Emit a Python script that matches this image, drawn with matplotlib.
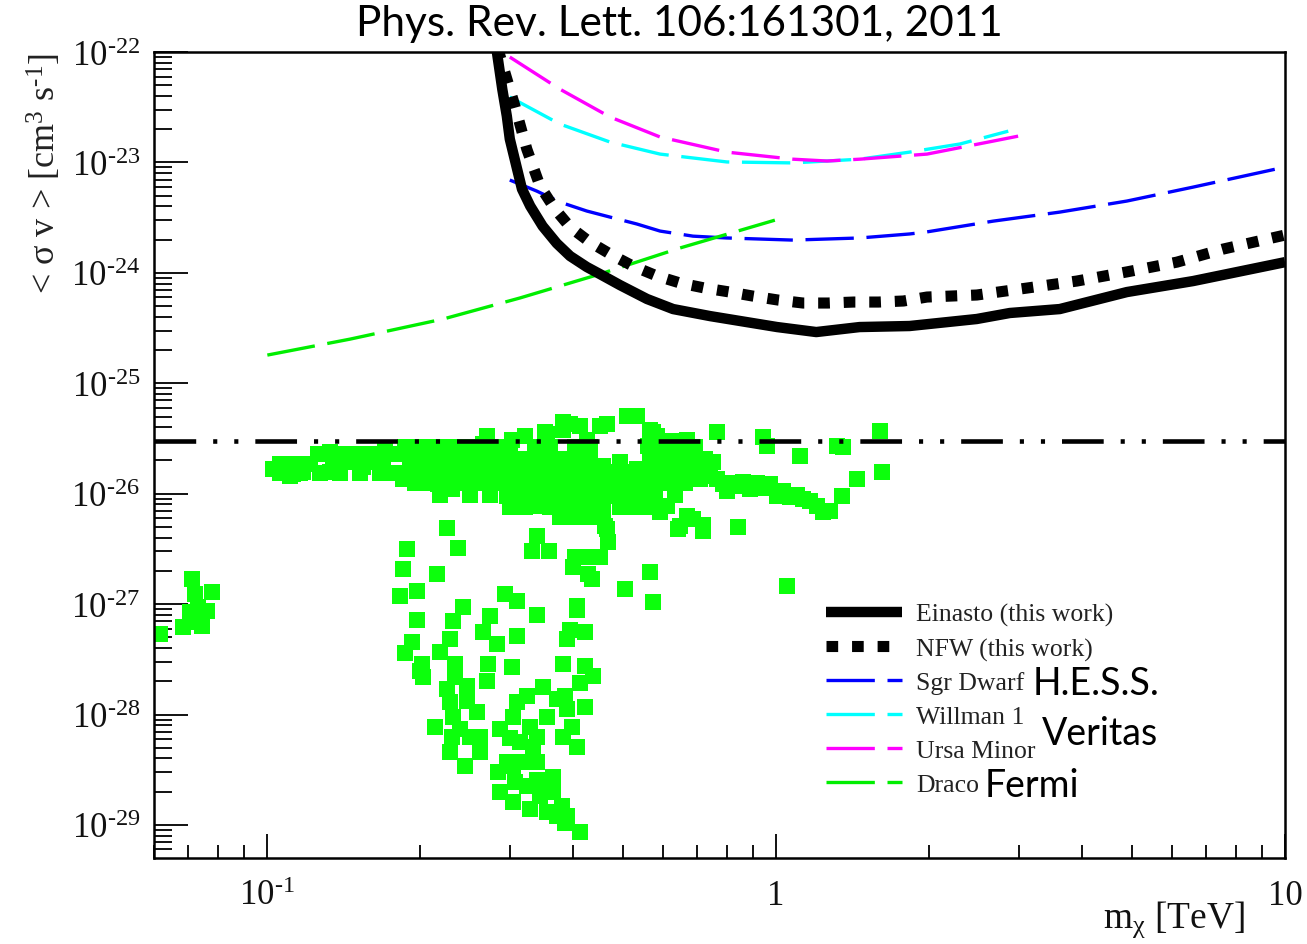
import matplotlib
matplotlib.use("Agg")
import matplotlib.pyplot as plt
import numpy as np
from matplotlib.ticker import FixedLocator, LogLocator, NullFormatter

plt.rcParams["font.family"] = ["Liberation Serif", "DejaVu Serif"]
plt.rcParams["mathtext.fontset"] = "custom"
plt.rcParams["mathtext.rm"] = "Liberation Serif"
plt.rcParams["mathtext.it"] = "Liberation Serif:italic"
plt.rcParams["mathtext.bf"] = "Liberation Serif:bold"

# limits from this work (mass in TeV, <sigma v> in cm^3/s)
einasto_m = [0.281, 0.283, 0.290, 0.296, 0.300, 0.317, 0.329, 0.348, 0.371,
             0.394, 0.425, 0.451, 0.494, 0.558, 0.628, 0.742, 1.005, 1.20,
             1.46, 1.83, 2.48, 2.88, 3.61, 4.89, 6.60, 10.0]
einasto_sv = [1.1e-22, 1.0e-22, 4.6e-23, 2.63e-23, 1.63e-23, 5.74e-24,
              4.03e-24, 2.65e-24, 1.85e-24, 1.42e-24, 1.13e-24, 9.75e-25,
              7.74e-25, 5.8e-25, 4.7e-25, 4.06e-25, 3.23e-25, 2.91e-25,
              3.23e-25, 3.3e-25, 3.82e-25, 4.33e-25, 4.7e-25, 6.7e-25,
              8.43e-25, 1.25e-24]

nfw_m = [0.284, 0.287, 0.307, 0.324, 0.344, 0.368, 0.394, 0.431, 0.476,
         0.524, 0.584, 0.648, 0.725, 0.812, 0.901, 1.01, 1.13, 1.265, 1.42,
         1.59, 1.78, 1.98, 2.48, 3.11, 3.90, 4.89, 6.13, 7.55, 10.0]
nfw_sv = [1.1e-22, 9.2e-23, 3.24e-23, 1.32e-23, 6.1e-24, 3.78e-24, 2.6e-24,
          1.9e-24, 1.45e-24, 1.15e-24, 9.36e-25, 8.09e-25, 7.28e-25,
          6.7e-25, 6.16e-25, 5.67e-25, 5.33e-25, 5.33e-25, 5.44e-25,
          5.44e-25, 5.56e-25, 6.04e-25, 6.3e-25, 7.28e-25, 8.43e-25,
          1.02e-24, 1.25e-24, 1.64e-24, 2.2e-24]

# dwarf galaxy limits
sgr_m = [0.300, 0.339, 0.376, 0.425, 0.472, 0.533, 0.592, 0.687, 0.80, 1.08,
         1.46, 1.83, 1.98, 2.67, 3.61, 4.89, 6.60, 10.0]
sgr_sv = [6.93e-24, 5.5e-24, 4.38e-24, 3.63e-24, 3.2e-24, 2.77e-24,
          2.39e-24, 2.15e-24, 2.07e-24, 1.98e-24, 2.07e-24, 2.25e-24,
          2.35e-24, 2.94e-24, 3.55e-24, 4.47e-24, 5.98e-24, 9.08e-24]

willman_m = [0.300, 0.376, 0.472, 0.592, 0.801, 1.08, 1.46, 1.83, 2.30, 2.86]
willman_sv = [3.91e-23, 2.23e-23, 1.53e-23, 1.19e-23, 1.01e-23, 9.9e-24,
              1.07e-23, 1.24e-23, 1.47e-23, 1.92e-23]

ursa_m = [0.300, 0.376, 0.472, 0.592, 0.801, 1.08, 1.26, 1.46, 1.98, 2.67,
          2.99]
ursa_sv = [9.0e-23, 4.62e-23, 2.58e-23, 1.70e-23, 1.24e-23, 1.07e-23,
           1.03e-23, 1.07e-23, 1.19e-23, 1.56e-23, 1.73e-23]

draco_m = [0.1002, 0.1456, 0.222, 0.314, 0.451, 0.648, 0.995]
draco_sv = [1.8e-25, 2.51e-25, 3.82e-25, 5.92e-25, 9.75e-25, 1.68e-24,
            3.0e-24]

relic_sv = 3e-26

# model points, read as log10(m / TeV) and log10(<sigma v> / cm^3 s^-1)
model_log_m = [
    # low-mass clump
    -1.210, -1.165, -1.128, -1.147, -1.108, -1.141, -1.136, -1.118, -1.151,
    -1.128, -1.145,
    # upper band
    -0.988, -0.961, -0.955, -0.949, -0.929, -0.900, -0.876, -0.876, -0.870,
    -0.841, -0.811, -0.794, -0.768, -0.772, -0.745, -0.733, -0.719, -0.705,
    -0.686, -0.676, -0.664, -0.660, -0.640, -0.637, -0.627, -0.607, -0.601,
    -0.576, -0.568, -0.576, -0.548, -0.536, -0.528, -0.519, -0.493, -0.489,
    -0.479, -0.464, -0.454, -0.458, -0.430, -0.418, -0.405, -0.411, -0.418,
    -0.391, -0.389,
    -0.686, -0.660, -0.635, -0.615, -0.595, -0.568, -0.542, -0.528, -0.503,
    -0.483, -0.477, -0.458, -0.450, -0.424, -0.424, -0.385, -0.371, -0.360,
    -0.346, -0.336, -0.332, -0.306, -0.293, -0.273, -0.242, -0.202, -0.175,
    -0.163, -0.189, -0.163,
    -0.450, -0.418, -0.346, -0.332, -0.293, -0.273, -0.248, -0.234, -0.202,
    -0.175, -0.385, -0.242, -0.179, -0.116, -0.026, -0.018, 0.204, 0.120,
    0.132, 0.047, -0.124, -0.169, -0.155, -0.208, -0.189, 0.208, 0.159,
    0.130,
    -0.391, -0.365, -0.340, -0.306, -0.371, -0.340, -0.306, -0.273, -0.248,
    -0.228, -0.385, -0.352, -0.320, -0.287, -0.253, -0.234, -0.340, -0.371,
    -0.251, -0.208,
    # tail towards 1 TeV
    -0.130, -0.116, -0.090, -0.065, -0.037, -0.012, 0.002, 0.028, 0.053,
    0.081, 0.092, -0.096, -0.051,
    -0.149, -0.104, -0.077, -0.026, 0.014, 0.041, 0.067, 0.106,
    -0.253, -0.214, -0.228, -0.175, -0.193, -0.143, -0.143, -0.075, -0.248,
    -0.297, -0.361, -0.242, 0.022, -0.391,
    -0.332, -0.330, -0.346, -0.371,
    # just below the band
    -0.646, -0.625, -0.725, -0.733, -0.666, -0.470, -0.479, -0.446, -0.395,
    -0.399, -0.369,
    # funnel
    -0.739, -0.705, -0.705, -0.615, -0.635, -0.532, -0.509, -0.470, -0.391,
    -0.562, -0.576, -0.548, -0.509, -0.405, -0.411, -0.375, -0.715, -0.729,
    -0.660, -0.640, -0.695, -0.694, -0.631, -0.566, -0.519, -0.418, -0.375,
    -0.360, -0.385, -0.631, -0.646, -0.607, -0.568, -0.458, -0.640, -0.607,
    -0.587, -0.635, -0.670, -0.621, -0.601, -0.637, -0.640, -0.611, -0.582,
    -0.582, -0.542, -0.523, -0.509, -0.489, -0.517, -0.483, -0.503, -0.470,
    -0.450, -0.430, -0.415, -0.411, -0.401, -0.375, -0.391, -0.477, -0.546,
    -0.517, -0.497, -0.470, -0.438, -0.542, -0.517, -0.489, -0.464, -0.483,
    -0.450, -0.438, -0.420, -0.411, -0.415, -0.385, -0.430, -0.470, -0.513,
    -0.528, -0.699, -0.418,
]
model_log_sv = [
    # low-mass clump
    -27.27, -27.21, -27.20, -26.77, -26.89, -26.91, -27.03, -27.06, -27.07,
    -27.14, -27.16,
    # upper band
    -25.78, -25.73, -25.84, -25.82, -25.80, -25.64, -25.62, -25.80, -25.76,
    -25.71, -25.76, -25.71, -25.61, -25.78, -25.64, -25.87, -25.60, -25.75,
    -25.60, -25.80, -25.91, -25.62, -25.75, -25.96, -25.60, -25.75, -25.87,
    -25.55, -25.48, -25.75, -25.62, -25.80, -25.99, -25.51, -25.48, -25.69,
    -26.05, -26.11, -25.44, -25.87, -25.75, -25.42, -25.37, -25.99, -26.14,
    -26.17, -25.87,
    -25.69, -25.78, -25.90, -25.84, -25.71, -25.80, -25.75, -26.02, -25.84,
    -25.99, -26.11, -25.90, -25.71, -25.78, -26.11, -25.90, -26.05, -25.80,
    -26.14, -26.29, -25.93, -26.05, -25.80, -25.93, -25.87, -25.90, -25.66,
    -25.87, -26.29, -26.23,
    -25.46, -25.35, -25.39, -25.37, -25.30, -25.30, -25.42, -25.48, -25.52,
    -25.51, -25.39, -25.44, -25.53, -25.44, -25.49, -25.57, -25.43, -25.57,
    -25.58, -25.66, -25.71, -25.62, -25.84, -25.87, -25.75, -25.80, -25.87,
    -26.02,
    -25.75, -25.69, -25.75, -25.71, -25.87, -25.90, -25.84, -25.78, -25.71,
    -25.62, -26.02, -26.05, -26.02, -26.02, -25.96, -25.84, -26.17, -25.51,
    -25.57, -25.57,
    # tail towards 1 TeV
    -25.84, -25.87, -25.90, -25.89, -25.90, -25.91, -26.02, -26.03, -26.05,
    -26.11, -26.17, -25.98, -25.96,
    -25.87, -25.91, -25.93, -25.95, -25.98, -26.01, -26.07, -26.16,
    -26.12, -26.11, -26.17, -26.20, -26.32, -26.28, -26.34, -26.30, -26.71,
    -26.86, -26.77, -26.98, -26.84, -27.02,
    -26.32, -26.44, -26.57, -26.57,
    # just below the band
    -26.31, -26.49, -26.50, -26.68, -26.73, -26.38, -26.52, -26.52, -26.57,
    -26.66, -26.73,
    # funnel
    -26.93, -26.88, -27.14, -27.03, -27.15, -26.91, -26.97, -27.10, -27.05,
    -27.11, -27.25, -27.36, -27.29, -27.23, -27.32, -27.25, -27.34, -27.44,
    -27.43, -27.32, -27.54, -27.66, -27.54, -27.54, -27.57, -27.54, -27.56,
    -27.65, -27.71, -27.66, -27.77, -27.74, -27.70, -27.75, -27.89, -27.88,
    -27.98, -28.02, -28.11, -28.13, -28.20, -28.20, -28.34, -28.47, -28.34,
    -28.20, -28.13, -28.21, -27.89, -27.83, -28.02, -28.11, -28.25, -28.20,
    -28.02, -27.86, -27.83, -27.95, -28.11, -27.93, -28.29, -28.29, -28.52,
    -28.47, -28.43, -28.43, -28.57, -28.70, -28.79, -28.65, -28.74, -28.86,
    -28.88, -28.70, -28.83, -28.92, -28.98, -29.06, -28.92, -28.59, -28.61,
    -28.43, -27.61, -28.20,
]

# dense part of the band, one row of log10(m) values per log10(<sigma v>)
band_rows = [
    (-25.64, [-0.857, -0.847, -0.827, -0.817, -0.798, -0.768, -0.749]),
    (-25.73, [-0.974, -0.945, -0.915]),
    (-25.81, [-0.974, -0.935, -0.896, -0.857, -0.817, -0.778, -0.749]),
    (-25.58, [-0.729, -0.699, -0.670, -0.640, -0.611, -0.582, -0.552,
              -0.523, -0.473, -0.444, -0.395, -0.365, -0.218, -0.189,
              -0.159]),
    (-25.69, [-0.719, -0.690, -0.660, -0.631, -0.601, -0.572, -0.542,
              -0.513, -0.483, -0.454, -0.424, -0.395, -0.365, -0.228,
              -0.198, -0.169, -0.139]),
    (-25.80, [-0.719, -0.690, -0.650, -0.621, -0.591, -0.562, -0.523,
              -0.493, -0.464, -0.434, -0.405, -0.375, -0.346, -0.316,
              -0.287, -0.257, -0.228, -0.198, -0.169, -0.139]),
    (-25.90, [-0.709, -0.680, -0.650, -0.621, -0.591, -0.562, -0.532,
              -0.503, -0.473, -0.444, -0.415, -0.385, -0.356, -0.326,
              -0.297, -0.267, -0.238, -0.208, -0.179]),
    (-26.01, [-0.660, -0.601, -0.562, -0.523, -0.503, -0.454, -0.434,
              -0.405, -0.365, -0.336, -0.297, -0.267, -0.238, -0.198]),
    (-26.12, [-0.523, -0.493, -0.444, -0.405, -0.375, -0.346, -0.306,
              -0.277, -0.238]),
    (-26.21, [-0.424, -0.395, -0.365]),
]

x_ticks = [0.1, 1, 10]
x_tick_labels = [r"10$^{\text{-}1}$", "1", "10"]
y_ticks = [1e-29, 1e-28, 1e-27, 1e-26, 1e-25, 1e-24, 1e-23, 1e-22]
y_tick_labels = [r"10$^{\text{-}%d}$" % n for n in range(29, 21, -1)]

green = "#0cff0c"

band_log_m = [m for sv, row in band_rows for m in row]
band_log_sv = [sv for sv, row in band_rows for m in row]
scan_m = 10 ** np.array(model_log_m + band_log_m)
scan_sv = 10 ** np.array(model_log_sv + band_log_sv)

fig = plt.figure(figsize=(13.07, 9.45), dpi=100)
ax = fig.add_axes([0.1178, 0.0910, 0.8654, 0.8529])

ax.scatter(scan_m, scan_sv, marker="s", s=118, color=green,
           linewidths=0, zorder=2)

ax.plot(einasto_m, einasto_sv, color="black", lw=7.5,
        solid_capstyle="butt", solid_joinstyle="round",
        label="Einasto (this work)", zorder=4)
ax.plot(nfw_m, nfw_sv, color="black", lw=8,
        linestyle=(0, (1.05, 1.25)), dash_capstyle="butt",
        label="NFW (this work)", zorder=4)

dash = (0, (14.5, 3.8))
ax.plot(sgr_m, sgr_sv, color="#0000ff", lw=2.4, linestyle=dash,
        label="Sgr Dwarf", zorder=3)
ax.plot(willman_m, willman_sv, color="#00ffff", lw=2.4, linestyle=dash,
        label="Willman 1", zorder=3)
ax.plot(ursa_m, ursa_sv, color="#ff00ff", lw=2.4, linestyle=dash,
        label="Ursa Minor", zorder=3)
ax.plot(draco_m, draco_sv, color="#00ee00", lw=2.4, linestyle=dash,
        label="Draco", zorder=3)

ax.axhline(relic_sv, color="black", lw=3.3,
           linestyle=(0, (9.1, 3.7, 0.9, 3.7, 0.9, 3.7)),
           dash_capstyle="butt", zorder=5)

ax.set_xscale("log")
ax.set_yscale("log")
ax.set_xlim(0.06, 10)
ax.set_ylim(5.02e-30, 1e-22)

ax.xaxis.set_major_locator(FixedLocator(x_ticks))
ax.set_xticklabels(x_tick_labels)
ax.xaxis.set_minor_locator(LogLocator(base=10, subs=np.arange(2, 10)))
ax.xaxis.set_minor_formatter(NullFormatter())
ax.yaxis.set_major_locator(FixedLocator(y_ticks))
ax.set_yticklabels(y_tick_labels)
ax.yaxis.set_minor_locator(
    LogLocator(base=10, subs=np.arange(2, 10), numticks=20)
)
ax.yaxis.set_minor_formatter(NullFormatter())

ax.tick_params(axis="both", which="both", direction="in",
               top=False, right=False, width=1.4, colors="#111111",
               labelsize=25)
ax.tick_params(axis="y", which="major", length=24.5, pad=10)
ax.tick_params(axis="y", which="minor", length=12.7)
ax.tick_params(axis="x", which="major", length=17, pad=15)
ax.tick_params(axis="x", which="minor", length=9.4)
for spine in ax.spines.values():
    spine.set_linewidth(1.8)

leg = ax.legend(
    loc="upper left",
    bbox_to_anchor=(826 / 1307, 1 - 604 / 945),
    bbox_transform=fig.transFigure,
    frameon=False,
    borderpad=0,
    borderaxespad=0,
    fontsize=18.5,
    handlelength=2.95,
    handletextpad=0.55,
    labelspacing=0.42
)
for text in leg.get_texts():
    text.set_color("#222222")

fig.text(1245 / 1307, 1 - 928 / 945, r"m$_{\mathrm{\chi}}$ [TeV]",
         ha="right", va="baseline", fontsize=27, color="#111111")
fig.text(45 / 1307, 1 - 53 / 945, r"< σ v > [cm$^{3}$ s$^{\text{-}1}$]",
         rotation=90, ha="center", va="top", fontsize=26, color="#222222")

fig.text(0.5195, 1 - 5 / 945, "Phys. Rev. Lett. 106:161301, 2011",
         ha="center", va="top", fontsize=30.5, family="Lato")
fig.text(1033 / 1307, 1 - 695 / 945, "H.E.S.S.", ha="left",
         va="baseline", fontsize=27, family="Lato")
fig.text(1042 / 1307, 1 - 745 / 945, "Veritas", ha="left",
         va="baseline", fontsize=27, family="Lato")
fig.text(985 / 1307, 1 - 797 / 945, "Fermi", ha="left",
         va="baseline", fontsize=27, family="Lato")

fig.savefig("out.png", dpi=100)
